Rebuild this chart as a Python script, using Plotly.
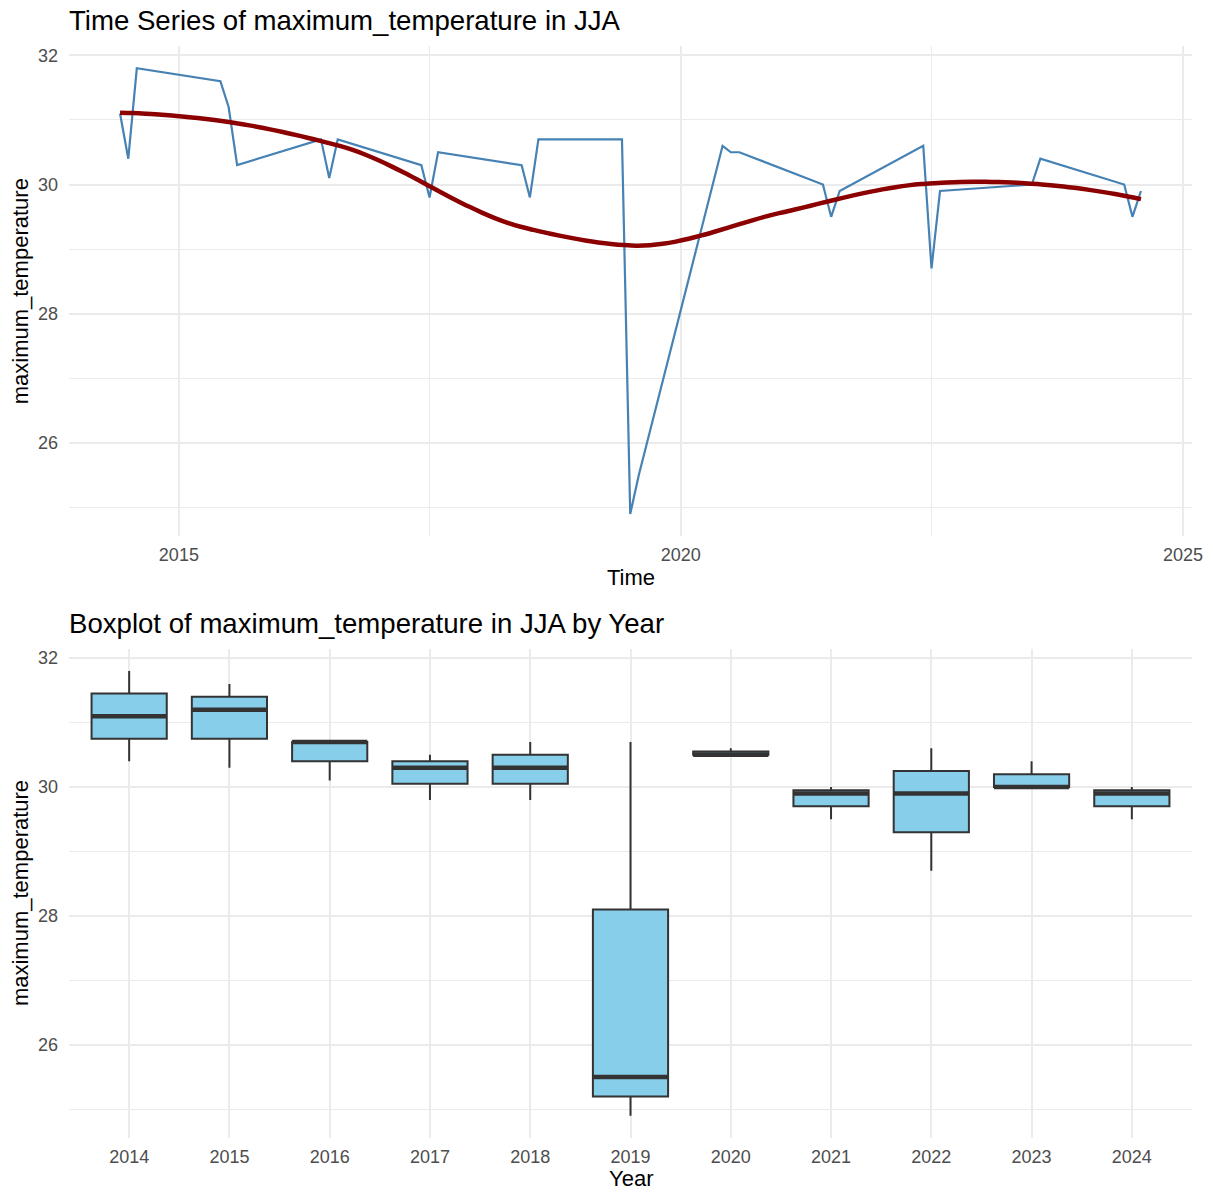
import numpy as np
import pandas as pd
import plotly.graph_objects as go

# ---------------- data ----------------
years = [2014, 2015, 2016, 2017, 2018, 2019, 2020, 2021, 2022, 2023, 2024]
months = [6, 7, 8]
jun = [31.1, 31.6, 30.7, 30.3, 30.3, 30.7, 30.6, 30.0, 30.6, 30.0, 30.0]
jul = [30.4, 31.2, 30.1, 29.8, 29.8, 24.9, 30.5, 29.5, 28.7, 30.0, 29.5]
aug = [31.8, 30.3, 30.7, 30.5, 30.7, 25.5, 30.5, 29.9, 29.9, 30.4, 29.9]
top_ticks = ["2015", "2020", "2025"]
y_ticks = [26, 28, 30, 32]

# build long table
rows = []
for i, yr in enumerate(years):
    for m, v in zip(months, [jun[i], jul[i], aug[i]]):
        rows.append((pd.Timestamp(year=yr, month=m, day=1), yr, v))
df = pd.DataFrame(rows, columns=["date", "year", "value"]).sort_values("date")

# ---------------- loess (span 0.75, degree 2, kd-tree + Hermite interpolation like R) ----------------
def local_fit(x, y, x0, span=0.75):
    n = len(x)
    q = int(np.floor(n * span))
    d = np.abs(x - x0)
    h = np.sort(d)[q - 1]
    u = np.clip(d / h, 0, 1)
    w = (1 - u ** 3) ** 3
    X = np.vstack([np.ones(n), x - x0, (x - x0) ** 2]).T
    WX = X * w[:, None]
    beta = np.linalg.solve(X.T @ WX, WX.T @ y)
    return beta[0], beta[1]

def loess_interp(x, y, xout, span=0.75, cell=0.2):
    n = len(x)
    fc = int(np.floor(n * span * cell))
    xsorted = np.sort(x)
    lo, hi = xsorted[0], xsorted[-1]
    t = 0.005 * (hi - lo)
    verts = {lo - t, hi + t}

    def split(pts, a, b):
        if len(pts) <= fc:
            return
        m = len(pts)
        if m % 2 == 1:
            v = pts[m // 2]
        else:
            v = 0.5 * (pts[m // 2 - 1] + pts[m // 2])
        if v <= a or v >= b:
            return
        verts.add(v)
        split(pts[pts <= v], a, v)
        split(pts[pts > v], v, b)

    split(xsorted, lo - t, hi + t)
    vs = np.array(sorted(verts))
    vals = np.array([local_fit(x, y, v, span) for v in vs])
    f, s = vals[:, 0], vals[:, 1]
    out = []
    for x0 in xout:
        k = np.searchsorted(vs, x0) - 1
        k = min(max(k, 0), len(vs) - 2)
        x1, x2 = vs[k], vs[k + 1]
        hh = x2 - x1
        tt = (x0 - x1) / hh
        h00 = 2 * tt ** 3 - 3 * tt ** 2 + 1
        h10 = tt ** 3 - 2 * tt ** 2 + tt
        h01 = -2 * tt ** 3 + 3 * tt ** 2
        h11 = tt ** 3 - tt ** 2
        out.append(h00 * f[k] + h10 * hh * s[k] + h01 * f[k + 1] + h11 * hh * s[k + 1])
    return np.array(out)

xnum = (df["date"] - pd.Timestamp("1970-01-01")).dt.days.values.astype(float)
yv = df["value"].values
xs = np.linspace(xnum.min(), xnum.max(), 80)
ys = loess_interp(xnum, yv, xs)
xs_dates = pd.Timestamp("1970-01-01") + pd.to_timedelta(xs, unit="D")

# ---------------- style ----------------
FONT = "Liberation Sans, Arial, sans-serif"
GRID = "#EBEBEB"
TICKC = "#4D4D4D"

fig = go.Figure()

fig.add_trace(go.Scatter(x=df["date"], y=df["value"], mode="lines",
                         line=dict(color="#4682B4", width=2.2),
                         xaxis="x", yaxis="y", showlegend=False))
fig.add_trace(go.Scatter(x=xs_dates, y=ys, mode="lines",
                         line=dict(color="#8B0000", width=4.5, shape="spline"),
                         xaxis="x", yaxis="y", showlegend=False))

# boxplot
BW = 0.75
fig.add_trace(go.Box(x=df["year"], y=df["value"], width=BW,
                     fillcolor="#87CEEB", line=dict(color="#333333", width=2),
                     whiskerwidth=0,
                     boxpoints=False, quartilemethod="inclusive",
                     xaxis="x2", yaxis="y2", showlegend=False))
mx, my = [], []
for yr in years:
    med = float(np.median(df.loc[df["year"] == yr, "value"]))
    mx += [yr - BW / 2, yr + BW / 2, None]
    my += [med, med, None]
fig.add_trace(go.Scatter(x=mx, y=my, mode="lines",
                         line=dict(color="#333333", width=4.5),
                         xaxis="x2", yaxis="y2", showlegend=False))

# ranges with 5% expansion
vmin, vmax = yv.min(), yv.max()
yr_pad = (vmax - vmin) * 0.05
yrange = [vmin - yr_pad, vmax + yr_pad]
dmin, dmax = df["date"].min(), df["date"].max()
dpad = (dmax - dmin) * 0.05
xrange = [dmin - dpad, dmax + dpad]

W, H = 1213, 1193
ml, mr, mt, mb = 69, 21, 45.6, 55
ph = H - mt - mb
pw = W - ml - mr
def py(pix):
    return (H - mb - pix) / ph
def px(pix):
    return (pix - ml) / pw

top_dom = [py(536), 1.0]
bot_dom = [0.0, py(648.6)]

axis_common = dict(showline=False, zeroline=False, ticks="", automargin=False,
                   tickfont=dict(family=FONT, size=18, color=TICKC),
                   gridcolor=GRID, gridwidth=2)

fig.update_layout(
    width=W, height=H,
    paper_bgcolor="white", plot_bgcolor="white",
    margin=dict(l=ml, r=mr, t=mt, b=mb, autoexpand=False),
    font=dict(family=FONT),
    xaxis=dict(**axis_common, type="date", range=xrange, domain=[0, 1],
               tickvals=[pd.Timestamp(f"{t}-01-01") for t in top_ticks],
               ticktext=top_ticks, anchor="y", ticklabelstandoff=6,
               minor=dict(tickvals=[pd.Timestamp("2012-07-02"), pd.Timestamp("2017-07-02"),
                                    pd.Timestamp("2022-07-02")],
                          showgrid=True, gridcolor=GRID, gridwidth=1)),
    yaxis=dict(**axis_common, range=yrange, domain=top_dom, anchor="x",
               tickvals=y_ticks, ticklabelstandoff=10,
               minor=dict(dtick=1, tick0=25, showgrid=True, gridcolor=GRID, gridwidth=1)),
    xaxis2=dict(**axis_common, range=[years[0] - 0.6, years[-1] + 0.6], domain=[0, 1],
                tickvals=years, ticktext=[str(y) for y in years], anchor="y2",
                ticklabelstandoff=6),
    yaxis2=dict(**axis_common, range=yrange, domain=bot_dom, anchor="x2",
                tickvals=y_ticks, ticklabelstandoff=10,
                minor=dict(dtick=1, tick0=25, showgrid=True, gridcolor=GRID, gridwidth=1)),
)

def ann(text, x, ypix, size, **kw):
    return dict(text=text, xref="paper", yref="paper", x=x, y=py(ypix),
                showarrow=False, font=dict(family=FONT, size=size, color="black"), **kw)

annots = [
    ann("Time Series of maximum_temperature in JJA", px(67), 20, 27.6, xanchor="left", yanchor="middle"),
    ann("Boxplot of maximum_temperature in JJA by Year", px(67), 623, 27.6, xanchor="left", yanchor="middle"),
    ann("Time", 0.5, 577, 22, xanchor="center", yanchor="middle"),
    ann("Year", 0.5, 1179, 22, xanchor="center", yanchor="middle"),
    ann("maximum_temperature", px(20), 291, 22, xanchor="center", yanchor="middle", textangle=-90),
    ann("maximum_temperature", px(20), 893, 22, xanchor="center", yanchor="middle", textangle=-90),
]
fig.update_layout(annotations=annots)

fig.write_html("out.html", config={"displayModeBar": False},
               post_script="document.body.style.margin='0';document.body.style.overflow='hidden';")
